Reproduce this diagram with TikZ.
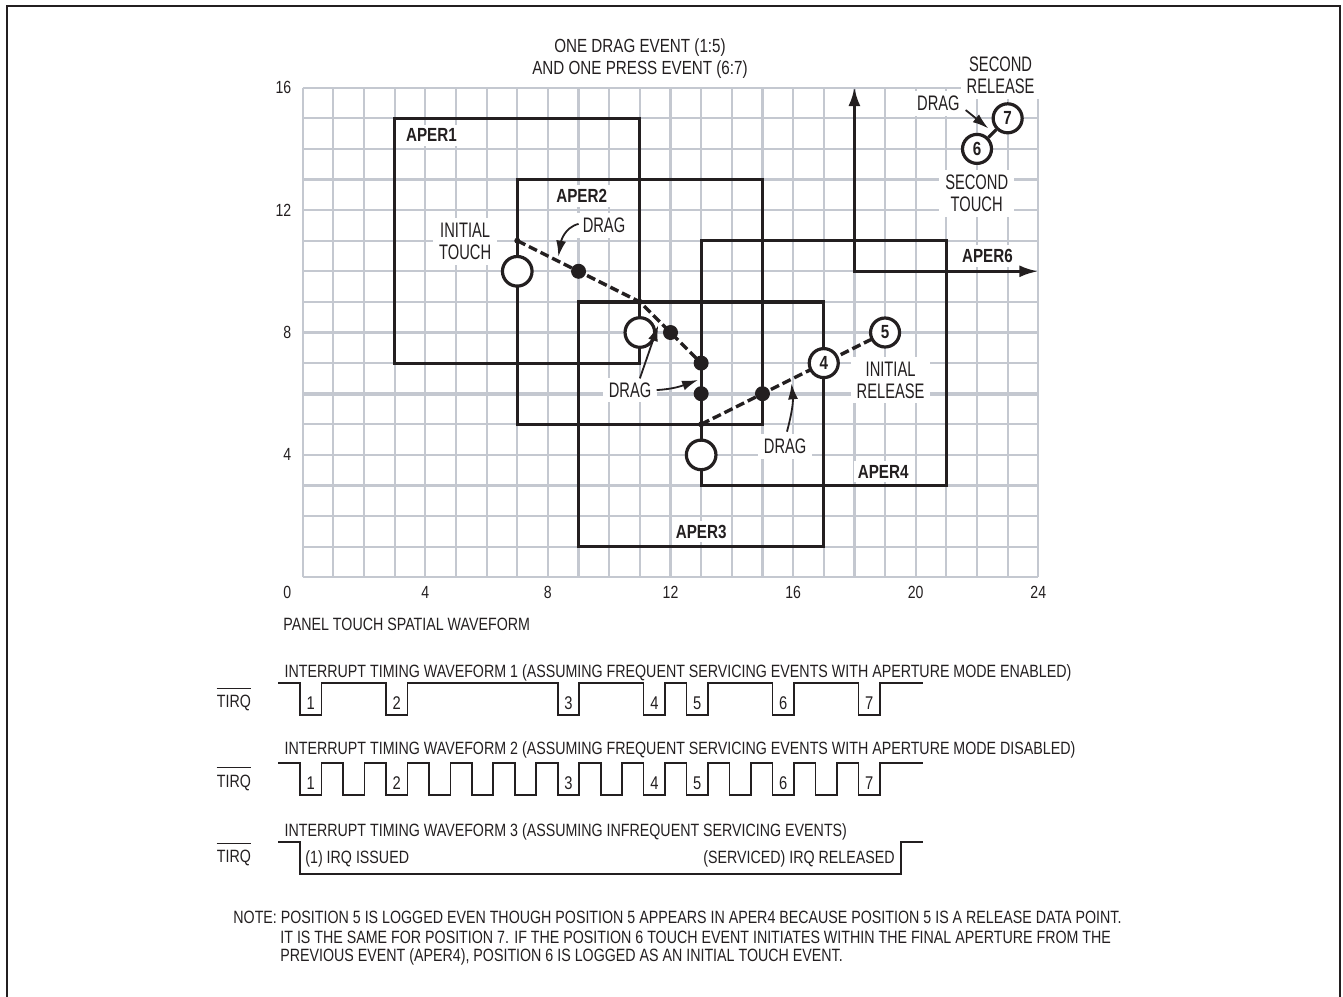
\documentclass[tikz,border=0pt]{standalone}
\usepackage{fontspec}
\setmainfont{Liberation Sans}[FakeStretch=0.8]
\newfontfamily\lblfont{Liberation Sans}[FakeStretch=0.7]
\usetikzlibrary{arrows.meta}
\definecolor{ink}{RGB}{35,31,32}
\definecolor{gridc}{RGB}{196,200,208}
\tikzset{
  aper/.style={draw=ink, line width=1.6pt},
  gline/.style={draw=gridc, line width=1.1pt},
  lbl/.style={font=\lblfont\fontsize{10.5}{10.8}\selectfont, fill=white, inner xsep=3pt, inner ysep=2.5pt, align=center, text=ink},
  apl/.style={font=\fontsize{9.5}{11}\selectfont\bfseries, fill=white, inner sep=2pt, text=ink},
  axl/.style={font=\fontsize{8.8}{10}\selectfont, inner sep=0pt, text=ink},
  opc/.style={circle, draw=ink, fill=white, line width=1.6pt, minimum size=14.8pt, inner sep=0pt},
  numc/.style={circle, draw=ink, fill=white, line width=1.6pt, minimum size=14.5pt, inner sep=0pt, font=\fontsize{9.5}{10}\selectfont\bfseries, text=ink},
  pdot/.style={circle, fill=ink, minimum size=7.5pt, inner sep=0pt},
  jdot/.style={circle, fill=ink, minimum size=3pt, inner sep=0pt},
  dragarrow/.style={draw=ink, line width=0.9pt, -{Latex[length=8pt,width=5pt]}},
  bigarrow/.style={draw=ink, line width=1.6pt, {Latex[length=9.5pt,width=6pt]}-{Latex[length=9.5pt,width=6pt]}},
  pathd/.style={draw=ink, line width=1.7pt, dash pattern=on 4.5pt off 2pt},
  wave/.style={draw=ink, line width=0.85pt},
  tt/.style={font=\fontsize{8.9}{10.5}\selectfont, inner sep=0pt, text=ink},
  pnum/.style={font=\fontsize{9.2}{10.5}\selectfont, inner sep=0pt, text=ink},
  ttl/.style={font=\fontsize{9.5}{11}\selectfont, inner sep=0pt, align=center, text=ink},
}
\begin{document}
\begin{tikzpicture}[x=0.5pt,y=-0.5pt]
\useasboundingbox (0,0) rectangle (1343,996);
% outer frame
\draw[ink, line width=1.2pt] (7,1010) -- (7,6) -- (1340,6) -- (1340,1010);

% title
\node[ttl] (title) at (640,59) {ONE DRAG EVENT (1:5)\\AND ONE PRESS EVENT (6:7)};

% ---------------- spatial plot ----------------
\begin{scope}[shift={(151.35pt,-288.65pt)}, x=15.325pt, y=15.3pt]
  \foreach \i in {0,...,24} \draw[gline] (\i,0) -- (\i,16);
  \foreach \j in {0,...,16} \draw[gline] (0,\j) -- (24,\j);
  \draw[gridc, line width=1.8pt] (0,6) -- (24,6);
  % axis labels
  \foreach \v in {4,8,12,16} \node[axl, anchor=east] (ya\v) at (-0.36,\v) {\v};
  \node[axl, anchor=east] (xa0) at (-0.36,-0.48) {0};
  \foreach \v in {4,8,12,16,20,24} \node[axl] (xa\v) at (\v,-0.48) {\v};
  % apertures
  \draw[aper] (3,7) rectangle (11,15);
  \draw[aper] (7,5) rectangle (15,13);
  \draw[aper] (9,1) rectangle (17,9);
  \draw[aper] (13,3) rectangle (21,11);
  \coordinate (a6c) at (18,10);
  \coordinate (a6u) at (18,16.02);
  \coordinate (a6r) at (24,10);
  \draw[bigarrow, line join=miter] (a6u) -- (a6c) -- (a6r);
  % drag path
  \coordinate (t1) at (7,11);
  \coordinate (t2) at (11,9);
  \coordinate (t3) at (13,5);
  \draw[pathd] (t1) -- (9,10) -- (t2) -- (12,8) -- (13,7);
  \draw[pathd] (t3) -- (15,6) -- (17,7) -- (19,8);
  % junction marks
  \node[jdot] (j1) at (t1) {};
  \node[jdot] (j2) at (t2) {};
  \node[jdot] (j3) at (t3) {};
  % data dots
  \node[pdot] (p1) at (9,10) {};
  \node[pdot] (p2) at (12,8) {};
  \node[pdot] (p3) at (13,7) {};
  \node[pdot] (p4) at (13,6) {};
  \node[pdot] (p5) at (15,6) {};
  % open circles
  \node[opc] (o1) at (7,10) {};
  \node[opc] (o2) at (11,8) {};
  \node[opc] (o3) at (13,4) {};
  % numbered circles
  \node[numc] (c4) at (17,7) {4};
  \node[numc] (c5) at (19,8) {5};
  \node[numc] (c6) at (22,14) {6};
  \node[numc] (c7) at (23,15) {7};
  \draw[ink, line width=1.6pt] (c6) -- (c7);
  % labels
  \node[lbl] (lit) at (5.3,10.97) {INITIAL\\TOUCH};
  \node[lbl] (ldt) at (9.83,11.51) {DRAG};
  \node[lbl] (ldm) at (10.68,6.12) {DRAG};
  \node[lbl] (ldb) at (15.74,4.27) {DRAG};
  \node[lbl] (lir) at (19.18,6.44) {INITIAL\\RELEASE};
  \node[lbl] (lst) at (21.99,12.55) {SECOND\\TOUCH};
  \node[lbl] (lsr) at (22.77,16.4) {SECOND\\RELEASE};
  \node[lbl] (ld67) at (20.74,15.49) {DRAG};
  \node[apl] (ap1) at (4.2,14.45) {APER1};
  \node[apl] (ap2) at (9.1,12.46) {APER2};
  \node[apl] (ap3) at (13.0,1.49) {APER3};
  \node[apl] (ap4) at (18.94,3.45) {APER4};
  \node[apl] (ap6) at (22.34,10.5) {APER6};
  % drag arrows
  \coordinate (dts) at (9.0,11.55);
  \coordinate (dte) at (8.34,10.48);
  \draw[dragarrow] (dts) to[out=195,in=80] (dte);
  \coordinate (dm1s) at (11.0,6.5);
  \coordinate (dm1e) at (11.6,8.24);
  \draw[dragarrow] (dm1s) -- (dm1e);
  \coordinate (dm2s) at (11.55,6.12);
  \coordinate (dm2e) at (12.9,6.45);
  \draw[dragarrow] (dm2s) to[out=3,in=200] (dm2e);
  \coordinate (dbs) at (15.8,4.76);
  \coordinate (dbe) at (15.95,6.34);
  \draw[dragarrow] (dbs) to[out=75,in=-85] (dbe);
  \coordinate (d67s) at (21.63,15.27);
  \coordinate (d67e) at (22.37,14.67);
  \draw[dragarrow] (d67s) -- (d67e);
\end{scope}

% ---------------- timing waveforms ----------------
\node[tt, anchor=west] (ptsw) at (283,624) {PANEL TOUCH SPATIAL WAVEFORM};

\node[tt, anchor=west] (w1t) at (284.3,672.7) {INTERRUPT TIMING WAVEFORM 1 (ASSUMING FREQUENT SERVICING EVENTS WITH APERTURE MODE ENABLED)};
\node[tt, anchor=west] (w2t) at (284.3,750) {INTERRUPT TIMING WAVEFORM 2 (ASSUMING FREQUENT SERVICING EVENTS WITH APERTURE MODE DISABLED)};
\node[tt, anchor=west] (w3t) at (284.3,831.7) {INTERRUPT TIMING WAVEFORM 3 (ASSUMING INFREQUENT SERVICING EVENTS)};

\foreach \i/\yy in {1/703.3,2/782.7,3/858.3} {
  \node[tt] (tirq\i) at (234,\yy) {TIRQ};
  \draw[ink, line width=0.5pt] ([yshift=3.5pt]tirq\i.north west) -- ([yshift=3.5pt]tirq\i.north east);
}

% waveform 1
\draw[wave] (278.3,682.7)
  foreach \k in {0,2,6,8,9,11,13} { -- ({300+42.95*\k},682.7) -- ++(0,32.3) -- ++(21.5,0) -- ++(0,-32.3) }
  -- (922.7,682.7);
% waveform 2
\draw[wave] (278.3,763.3)
  foreach \k in {0,...,13} { -- ({300+42.95*\k},763.3) -- ++(0,31.7) -- ++(21.5,0) -- ++(0,-31.7) }
  -- (922.7,763.3);
% waveform 3
\draw[wave] (278.3,841.7) -- (300,841.7) -- (300,874) -- (900.7,874) -- (900.7,841.7) -- (922.7,841.7);

\foreach \k/\n in {0/1,2/2,6/3,8/4,9/5,11/6,13/7} {
  \node[pnum] (wa\n) at ({310.75+42.95*\k},703) {\n};
  \node[pnum] (wb\n) at ({310.75+42.95*\k},783) {\n};
}
\node[tt, anchor=west] (irqi) at (305,859.3) {(1) IRQ ISSUED};
\node[tt, anchor=east] (irqr) at (895,859.3) {(SERVICED) IRQ RELEASED};

% note
\node[tt, anchor=west] (n1) at (233,917) {NOTE: POSITION 5 IS LOGGED EVEN THOUGH POSITION 5 APPEARS IN APER4 BECAUSE POSITION 5 IS A RELEASE DATA POINT.};
\node[tt, anchor=west] (n2) at (280,937) {IT IS THE SAME FOR POSITION 7. IF THE POSITION 6 TOUCH EVENT INITIATES WITHIN THE FINAL APERTURE FROM THE};
\node[tt, anchor=west] (n3) at (280,957) {PREVIOUS EVENT (APER4), POSITION 6 IS LOGGED AS AN INITIAL TOUCH EVENT.};
\end{tikzpicture}
\end{document}
